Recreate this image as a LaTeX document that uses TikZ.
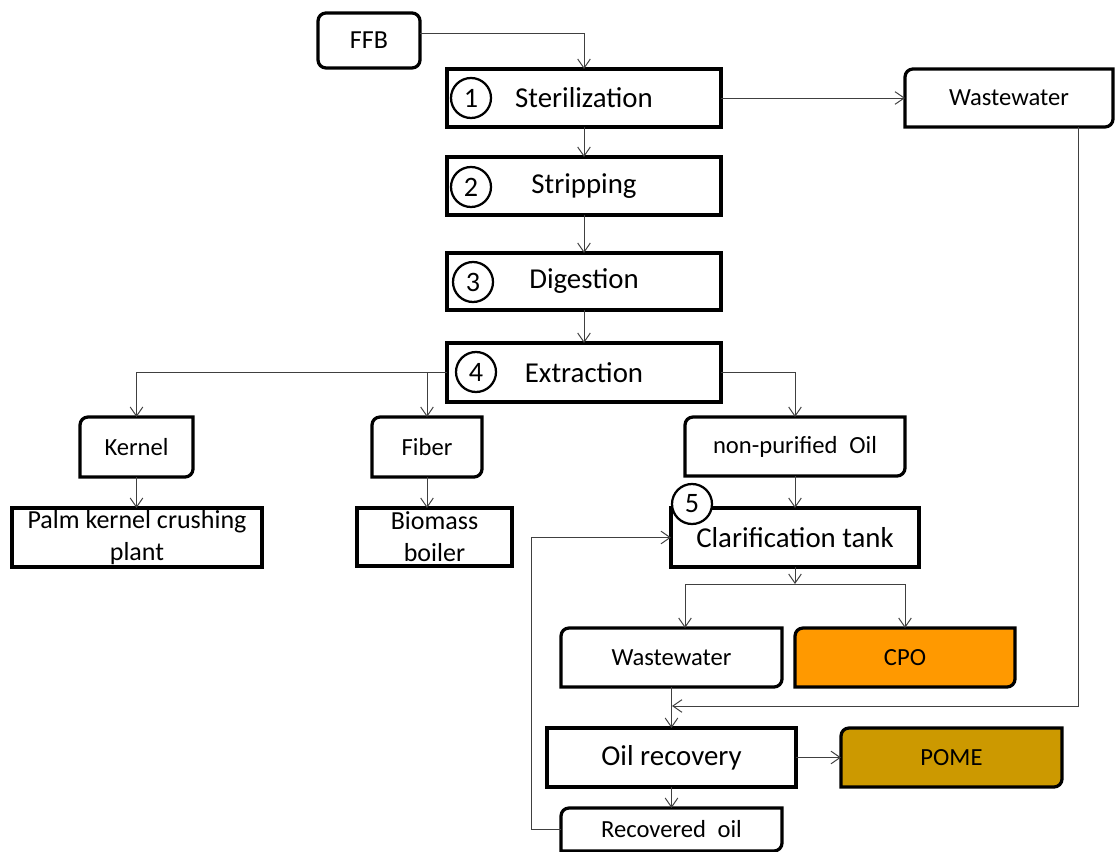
\documentclass[tikz,border=0pt]{standalone}
\usepackage{fontspec}
\setmainfont{Carlito}
\usetikzlibrary{arrows.meta,calc}
\tikzset{
  frame/.style={line width=2.3pt, draw=black},
  lbl/.style={inner sep=0pt, outer sep=0pt, align=center, font=\fontsize{20.5}{24}\selectfont},
  slbl/.style={lbl, font=\fontsize{17.5}{22.5}\selectfont},
  tlbl/.style={lbl, font=\fontsize{18.5}{22.7}\selectfont},
  conn/.style={draw=black!75, line width=0.7pt, -{Straight Barb[length=6.5pt,width=9pt]}},
  num/.style={circle, draw=black, line width=1.6pt, fill=white, minimum size=1cm, inner sep=0pt, font=\fontsize{20}{24}\selectfont},
}
% square box: name x1 y1 x2 y2 style text
\newcommand\sqbox[7]{%
  \draw[frame] (#2,#3) rectangle (#4,#5);
  \pgfmathsetmacro\bw{(#4-#2)*0.025}\pgfmathsetmacro\bh{(#5-#3)*0.025}%
  \node[#6, minimum width=\bw cm, minimum height=\bh cm] (#1) at ({(#2+#4)/2},{(#3+#5)/2}) {#7};}
% box with rounded top-left and bottom-right corners: name x1 y1 x2 y2 fill style text
\newcommand\dgbox[8]{%
  \draw[frame, fill=#6] ($(#2,#3)+(0,8)$) arc[start angle=180,end angle=90,radius=0.2cm]
     -- (#4,#3) -- ($(#4,#5)+(0,-8)$) arc[start angle=0,end angle=-90,radius=0.2cm]
     -- (#2,#5) -- cycle;
  \pgfmathsetmacro\bw{(#4-#2)*0.025}\pgfmathsetmacro\bh{(#5-#3)*0.025}%
  \node[#7, minimum width=\bw cm, minimum height=\bh cm] (#1) at ({(#2+#4)/2},{(#3+#5)/2}) {#8};}
\definecolor{cpoc}{RGB}{255,153,0}
\definecolor{pomec}{RGB}{204,153,0}
\begin{document}
\begin{tikzpicture}[x=0.025cm, y=-0.025cm]
  \fill[white] (0,0) rectangle (1116,852);
  \useasboundingbox (0,0) rectangle (1116,852);

  % FFB
  \draw[frame, rounded corners=0.2cm] (318,13) rectangle (420,68);
  \node[tlbl, minimum width=2.55cm, minimum height=1.375cm] (ffb) at (369,40.5) {FFB};

  % main process column
  \sqbox{ster}{447}{69}{721}{127}{lbl}{Sterilization}
  \sqbox{strip}{447}{157}{721}{215}{lbl}{Stripping}
  \sqbox{dig}{447}{253}{721}{310}{lbl}{Digestion}
  \sqbox{ext}{447}{343}{721}{402}{lbl}{Extraction}

  \node[num] (n1) at (471,98) {1};
  \node[num] (n2) at (471,187) {2};
  \node[num] (n3) at (473,282) {3};
  \node[num] (n4) at (476,372) {4};

  % outputs
  \dgbox{ww1}{905}{69}{1113}{127}{white}{slbl}{Wastewater}
  \dgbox{kernel}{80}{417}{193}{477}{white}{slbl}{Kernel}
  \dgbox{fiber}{372}{417}{482}{477}{white}{slbl}{Fiber}
  \dgbox{np}{685}{417}{905}{476}{white}{slbl}{non-purified\hspace{0.25em} Oil}
  \sqbox{palm}{12}{508}{262}{567}{tlbl}{Palm kernel crushing\\plant}
  \sqbox{bio}{357}{508}{512}{566}{tlbl}{Biomass\\boiler}
  \sqbox{clar}{671}{508}{919}{567}{lbl}{Clarification tank}
  \node[num] (n5) at (692,504) {5};
  \dgbox{ww2}{561}{628}{782}{687}{white}{slbl}{Wastewater}
  \dgbox{cpo}{795}{628}{1015}{687}{cpoc}{slbl}{CPO}
  \sqbox{oilrec}{547}{728}{796}{787}{lbl}{Oil recovery}
  \dgbox{pome}{841}{728}{1062}{787}{pomec}{slbl}{POME}
  \dgbox{rec}{561}{808}{782}{851}{white}{slbl}{Recovered\hspace{0.25em} oil}

  % connectors
  \draw[conn] ([yshift=0.18cm]ffb.east) -| (ster.north);
  \draw[conn] (ster.east) -- (ww1.west);
  \draw[conn] (ster.south) -- (strip.north);
  \draw[conn] (strip.south) -- (dig.north);
  \draw[conn] (dig.south) -- (ext.north);
  \draw[conn] (ext.west) -| (kernel.north);
  \draw[conn] (fiber.north |- ext.west) -- (fiber.north);
  \draw[conn] (ext.east) -| (np.north);
  \draw[conn] (kernel.south) -- (kernel.south |- palm.north);
  \draw[conn] (fiber.south) -- (fiber.south |- bio.north);
  \draw[conn] (np.south) -- (np.south |- clar.north);
  \draw[conn] (clar.south) -- ++(0,17) coordinate (sp);
  \coordinate (wwin) at (685,628);
  \draw[conn] (sp) -| (wwin);
  \draw[conn] (sp) -| (cpo.north);
  \draw[conn] (ww2.south) -- (oilrec.north);
  \coordinate (wwr) at (1078,127);
  \coordinate (mj) at (672,706);
  \draw[conn] (wwr) |- (mj);
  \draw[conn] (oilrec.east) -- (pome.west);
  \draw[conn] (oilrec.south) -- (rec.north);
  \draw[conn] (rec.west) -- ++(-30,0) |- (clar.west);
\end{tikzpicture}
\end{document}
